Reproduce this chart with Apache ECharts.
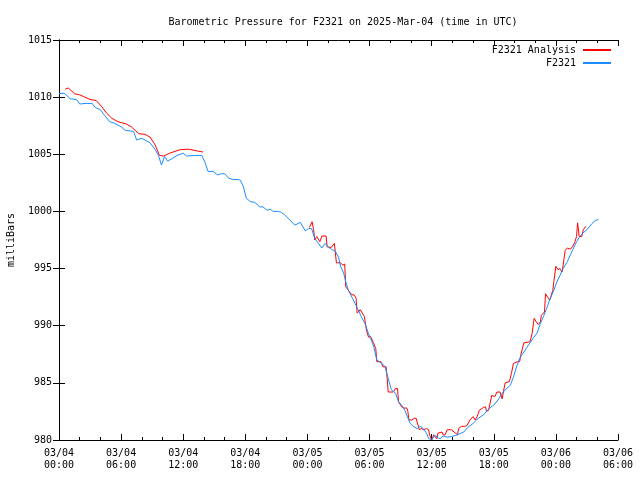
<!DOCTYPE html>
<html>
<head>
<meta charset="utf-8">
<script src="https://cdn.jsdelivr.net/npm/echarts@6/dist/echarts.min.js"></script>
<style>html,body{margin:0;padding:0;background:#fff}#c{width:640px;height:480px}</style>
</head>
<body>
<div id="c"></div>
<script>
// Hours since 2025-03-04 00:00 UTC
var blueHours = [0.0,0.5,0.8,1.1,1.7,2.0,2.6,3.2,3.5,4.0,4.4,4.9,5.4,6.0,6.4,7.2,7.5,8.0,8.8,9.3,9.6,9.9,10.2,10.5,10.7,11.4,12.0,12.3,13.1,13.8,14.1,14.4,14.9,15.3,15.7,16.0,16.4,16.8,17.2,17.5,17.8,18.1,18.5,18.9,19.4,19.7,20.1,20.4,20.7,21.2,21.5,21.8,22.3,22.8,23.3,23.8,24.1,24.4,24.7,25.05,25.4,25.7,26.0,26.3,26.7,27.0,27.2,27.5,27.7,27.95,28.3,28.6,28.9,29.2,29.6,29.9,30.1,30.4,30.7,31.2,31.5,31.8,32.1,32.5,32.8,33.1,33.4,33.65,33.9,34.2,34.6,34.9,35.2,35.5,35.7,36.0,36.3,36.8,37.1,37.5,37.9,38.3,38.6,39.1,39.5,40.0,40.5,41.0,41.6,42.0,42.4,42.9,43.6,43.9,44.2,44.5,44.9,45.2,45.5,45.8,46.2,46.5,46.8,47.1,47.4,47.8,48.1,48.4,48.7,49.1,49.4,49.7,50.0,50.3,50.6,51.0,51.5,51.8,52.1];
var bluePressure = [1010.3,1010.35,1010.1,1009.85,1009.8,1009.4,1009.45,1009.45,1009.1,1008.9,1008.4,1007.85,1007.7,1007.4,1007.1,1007.0,1006.25,1006.4,1006.0,1005.4,1004.9,1004.06,1004.8,1004.4,1004.5,1004.9,1005.1,1004.85,1004.9,1004.9,1004.3,1003.5,1003.5,1003.2,1003.3,1003.3,1002.9,1002.8,1002.8,1002.75,1002.2,1001.15,1000.85,1000.8,1000.4,1000.4,1000.1,1000.2,1000.0,1000.0,999.9,999.7,999.25,998.8,999.05,998.3,998.5,998.5,997.65,997.2,996.8,997.2,996.9,996.7,996.5,996.0,995.2,994.6,993.85,993.1,992.5,991.95,991.4,990.8,990.1,989.3,988.9,988.2,987.0,986.7,986.4,985.4,984.4,984.1,983.35,983.05,982.6,982.05,981.5,981.2,981.0,981.2,981.0,980.6,980.15,980.0,980.4,980.1,980.35,980.25,980.3,980.4,980.5,980.7,981.1,981.45,981.9,982.2,982.8,983.05,983.5,984.2,984.8,985.5,986.4,987.15,987.7,988.1,988.5,988.9,989.4,990.2,990.8,991.5,992.25,993.1,993.85,994.4,995.0,995.6,996.2,996.8,997.35,997.8,998.1,998.4,998.95,999.2,999.3];

var redHours = [0.6,0.9,1.5,2.0,2.5,3.0,3.6,4.1,4.6,5.1,5.7,6.5,7.0,7.7,8.3,8.8,9.3,9.7,10.1,10.7,11.7,12.5,13.3,13.9,19.0,
24.2,24.45,24.6,24.7,24.9,25.2,25.4,25.8,25.9,26.3,26.6,26.7,26.8,27.2,27.4,27.6,27.7,27.95,28.3,28.5,28.7,28.8,29.1,29.5,29.6,29.7,29.9,30.1,30.4,30.6,30.7,31.1,31.3,31.6,31.7,31.8,32.3,32.5,32.7,32.8,33.1,33.3,33.6,33.7,33.8,34.1,34.3,34.5,34.8,35.0,35.2,35.5,35.7,35.8,36.0,36.2,36.5,36.6,37.0,37.1,37.3,37.5,37.9,38.3,38.5,38.6,38.9,39.2,39.4,39.7,40.0,40.2,40.4,40.6,41.0,41.2,41.3,41.5,41.8,42.1,42.3,42.6,42.8,43.1,43.5,43.7,43.9,44.3,44.5,44.6,44.9,45.5,45.7,45.9,46.1,46.3,46.5,46.6,46.9,47.0,47.2,47.4,47.5,47.7,47.8,48.0,48.2,48.4,48.6,48.7,48.9,49.1,49.4,49.6,49.8,50.0,50.05,50.1,50.2,50.25,50.5,50.6,50.65,50.9];
var redPressure = [1010.7,1010.8,1010.3,1010.2,1010.0,1009.8,1009.7,1009.2,1008.6,1008.15,1007.85,1007.65,1007.4,1006.8,1006.75,1006.5,1005.8,1004.9,1004.85,1005.1,1005.4,1005.45,1005.3,1005.2,null,
998.6,999.1,998.4,997.5,997.8,997.35,997.85,997.85,996.9,996.85,997.2,997.2,995.5,995.5,995.3,995.4,993.4,993.1,992.7,992.7,992.4,991.1,991.4,990.8,990.9,989.6,989.0,989.05,988.45,988.0,986.85,986.85,986.4,986.4,985.4,984.2,984.2,984.5,984.5,983.35,982.9,982.8,982.8,982.5,981.75,981.75,981.9,981.9,980.9,981.0,980.9,981.0,980.9,980.45,980.0,980.45,980.1,980.6,980.7,980.45,980.45,980.9,980.9,980.6,980.45,981.0,981.2,981.2,981.25,981.75,982.05,981.75,982.05,982.6,982.85,982.9,982.5,982.6,983.9,983.8,984.2,984.2,983.6,985.0,985.1,985.8,986.7,986.85,986.85,987.4,988.5,988.6,989.3,990.65,990.35,990.1,990.35,990.9,991.2,992.8,992.5,992.25,992.5,993.1,993.85,995.2,994.9,995.0,994.7,995.3,996.6,996.8,996.7,996.9,997.25,997.8,998.5,999.0,999.0,997.8,997.8,997.65,998.4,998.7];

var yTicks = [980,985,990,995,1000,1005,1010,1015];
var xTickHours = [0,6,12,18,24,30,36,42,48,54];

function pairs(xs, ys){ return xs.map(function(x,i){ return [x, ys[i]]; }); }
function xLabel(h){
  var day = 4 + Math.floor(h/24), hr = h % 24;
  return '03/' + (day<10?'0':'') + day + '\n' + (hr<10?'0':'') + hr + ':00';
}

var FONT = 'DejaVu Sans Mono';
var chart = echarts.init(document.getElementById('c'), null, {renderer:'canvas'});
var axisCommon = {
  axisLine:{show:true, lineStyle:{color:'#000', width:1}},
  splitLine:{show:false}
};
chart.setOption({
  animation:false,
  backgroundColor:'#fff',
  title:{text:'Barometric Pressure for F2321 on 2025-Mar-04 (time in UTC)', left:338, textAlign:'center', top:12,
    textStyle:{fontFamily:FONT, fontSize:10, fontWeight:'normal', color:'#000'}},
  legend:{orient:'vertical', right:24, top:40, align:'right', itemGap:3, itemWidth:28, itemHeight:2, icon:'rect',
    textStyle:{fontFamily:FONT, fontSize:10, color:'#000', padding:[0,2,0,0]},
    data:['F2321 Analysis','F2321']},
  grid:{left:59, right:22, top:40, bottom:40, containLabel:false, outerBoundsMode:'none'},
  xAxis:[
    Object.assign({type:'value', min:0, max:54, interval:6, position:'bottom',
      axisTick:{show:true, inside:true, length:6, lineStyle:{color:'#000'}},
      minorTick:{show:true, splitNumber:3, length:3, lineStyle:{color:'#000'}},
      axisLabel:{formatter:function(v){ return xLabel(v); }, fontFamily:FONT, fontSize:10, color:'#000', margin:7, lineHeight:12,
        customValues: xTickHours}
    }, axisCommon),
    Object.assign({type:'value', min:0, max:54, interval:6, position:'top',
      axisTick:{show:true, inside:true, length:6, lineStyle:{color:'#000'}},
      minorTick:{show:true, splitNumber:3, length:3, lineStyle:{color:'#000'}},
      axisLabel:{show:false}}, axisCommon)
  ],
  yAxis:[
    Object.assign({type:'value', min:980, max:1015, interval:5, position:'left',
      name:'milliBars', nameLocation:'middle', nameGap:43, nameRotate:90,
      nameTextStyle:{fontFamily:FONT, fontSize:10, color:'#000'},
      axisTick:{show:true, inside:true, length:6, lineStyle:{color:'#000'}},
      axisLabel:{fontFamily:FONT, fontSize:10, color:'#000', margin:7, customValues:yTicks,
        formatter:function(v){ return String(v); }}}, axisCommon),
    Object.assign({type:'value', min:980, max:1015, interval:5, position:'right',
      axisTick:{show:true, inside:true, length:6, lineStyle:{color:'#000'}},
      axisLabel:{show:false}}, axisCommon)
  ],
  series:[
    {name:'F2321 Analysis', type:'line', data:pairs(redHours, redPressure), showSymbol:false, symbol:'none',
      connectNulls:false, lineStyle:{color:'#ff0000', width:1}, itemStyle:{color:'#ff0000'}, clip:true},
    {name:'F2321', type:'line', data:pairs(blueHours, bluePressure), showSymbol:false, symbol:'none',
      lineStyle:{color:'#1a8cff', width:1}, itemStyle:{color:'#1a8cff'}, clip:true}
  ]
});
</script>
</body>
</html>
